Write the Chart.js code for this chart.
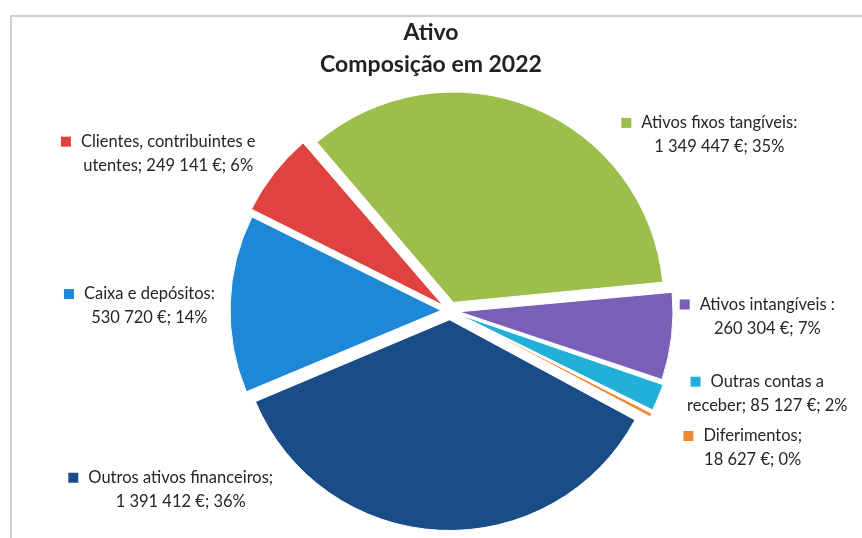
<!DOCTYPE html>
<html>
<head>
<meta charset="utf-8">
<script src="https://cdn.jsdelivr.net/npm/chart.js@4.4.0/dist/chart.umd.min.js"></script>
<style>
  html, body { margin: 0; padding: 0; background: #fff; }
  #wrap { position: relative; width: 862px; height: 538px; overflow: hidden; }
  #frame { position: absolute; left: 10px; top: 15px; width: 900px; height: 600px;
           border-left: 2px solid #cfcfcf; border-top: 2px solid #cfcfcf; pointer-events: none; }
</style>
</head>
<body>
<div id="wrap">
  <canvas id="pieChart" width="862" height="538"></canvas>
  <div id="frame"></div>
</div>
<script>
// dados (ordem igual à do gráfico, sentido horário)
const categories = [
  "Ativos fixos tangíveis",
  "Ativos intangíveis",
  "Outras contas a\nreceber",
  "Diferimentos",
  "Outros ativos financeiros",
  "Caixa e depósitos",
  "Clientes, contribuintes e\nutentes"
];
const separators = [":", " :", ";", ";", ";", ":", ";"];
const values = [1349447, 260304, 85127, 18627, 1391412, 530720, 249141];
const colors = ["#9cbe4a", "#7a5fb6", "#22b0d8", "#f08a32", "#1a4c88", "#1f88d6", "#e0433f"];
const titleLines = ["Ativo", "Composição em 2022"];

// posição dos rótulos relativa ao centro, em raios
const labelPos = [[1.29, -0.90], [1.52, -0.03], [1.52, 0.34], [1.45, 0.60], [-1.29, 0.80], [-1.44, -0.08], [-1.35, -0.81]];

const total = values.reduce((a, b) => a + b, 0);
const fmt = v => String(v).replace(/\B(?=(\d{3})+(?!\d))/g, " ");

function labelLines(i) {
  const parts = categories[i].split("\n");
  const tail = fmt(values[i]) + " €; " + Math.round(values[i] / total * 100) + "%";
  if (parts.length > 1) {
    const last = parts.pop();
    return [...parts, last + separators[i] + " " + tail];
  }
  return [parts[0] + separators[i], tail];
}

// título centrado na tela toda (não só na área do gráfico)
const titlePlugin = {
  id: "titlePlugin",
  afterDraw(chart) {
    const ctx = chart.ctx;
    ctx.save();
    ctx.font = "bold 23px Lato";
    ctx.fillStyle = "#222";
    ctx.textAlign = "center";
    ctx.textBaseline = "middle";
    titleLines.forEach((t, k) => ctx.fillText(t, chart.width / 2, 33 + k * 32));
    ctx.restore();
  }
};

const dataLabels = {
  id: "dataLabels",
  afterDatasetsDraw(chart) {
    const ctx = chart.ctx;
    const meta = chart.getDatasetMeta(0);
    ctx.save();
    ctx.font = "16.5px Lato";
    ctx.textBaseline = "middle";
    ctx.textAlign = "center";
    meta.data.forEach((arc, i) => {
      const cx = chart.chartArea.left + chart.chartArea.width / 2;
      const cy = chart.chartArea.top + chart.chartArea.height / 2;
      const r = arc.outerRadius;
      const x = cx + labelPos[i][0] * r;
      const y = cy + labelPos[i][1] * r;
      const lines = labelLines(i);
      lines.forEach((t, k) => {
        ctx.fillStyle = "#262626";
        ctx.fillText(t, x, y + k * 24);
      });
      const w = ctx.measureText(lines[0]).width;
      ctx.fillStyle = colors[i];
      ctx.fillRect(x - w / 2 - 20, y - 5, 10, 10);
    });
    ctx.restore();
  }
};

new Chart(document.getElementById("pieChart"), {
  type: "pie",
  data: {
    labels: categories,
    datasets: [{
      data: values,
      backgroundColor: colors,
      borderColor: "#ffffff",
      borderWidth: 1,
      offset: 36
    }]
  },
  options: {
    responsive: false,
    animation: false,
    rotation: -40.5,
    layout: { padding: { left: 38, right: 0, top: 83.5, bottom: -2.5 } },
    plugins: {
      legend: { display: false },
      tooltip: { enabled: false },
      title: { display: false }
    }
  },
  plugins: [dataLabels, titlePlugin]
});
</script>
</body>
</html>
